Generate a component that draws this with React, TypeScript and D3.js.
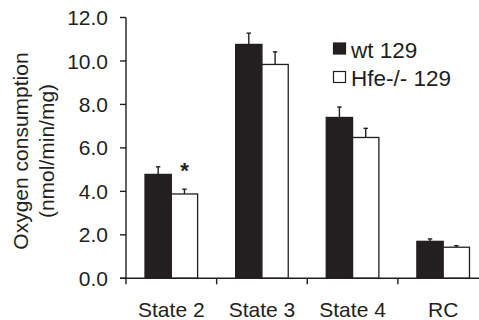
import React from "react";
import * as d3 from "d3";

const categories = ["State 2", "State 3", "State 4", "RC"];
const series = ["wt 129", "Hfe-/- 129"];
const wtValues = [4.78, 10.76, 7.4, 1.7];
const wtErrors = [0.35, 0.52, 0.48, 0.11];
const hfeValues = [3.88, 9.84, 6.48, 1.43];
const hfeErrors = [0.22, 0.58, 0.42, 0.07];
const yTicks = [0, 2, 4, 6, 8, 10, 12];
const significance = ["*", "", "", ""];

const W = 479;
const H = 320;
const X0 = 126;
const X1 = 488.5;
const Y0 = 278.3;
const Y1 = 17.5;
const INK = "#231f20";
const FONT = "'Liberation Sans', Arial, Helvetica, sans-serif";

export default function App() {
  const x = d3.scaleBand<string>().domain(categories).range([X0, X1]).padding(0);
  const bw = x.bandwidth();
  const barW = 26.3;
  const x1 = d3
    .scaleBand<string>()
    .domain(series)
    .range([bw / 2 - barW, bw / 2 + barW])
    .padding(0);
  const y = d3.scaleLinear().domain([0, 12]).range([Y0, Y1]);

  const data = series.map((s, si) => ({
    name: s,
    values: si === 0 ? wtValues : hfeValues,
    errors: si === 0 ? wtErrors : hfeErrors,
    fill: si === 0 ? INK : "#ffffff",
  }));

  return (
    <svg
      width={W}
      height={H}
      style={{ position: "absolute", left: 0, top: 0, background: "#fff" }}
      fontFamily={FONT}
    >
      <rect x={0} y={0} width={W} height={H} fill="#fff" />
      {/* bars */}
      {categories.map((c, ci) =>
        data.map((d) => {
          const bx = (x(c) as number) + (x1(d.name) as number);
          const top = y(d.values[ci]);
          const eTop = y(d.values[ci] + d.errors[ci]);
          const cx = bx + x1.bandwidth() / 2;
          return (
            <g key={c + d.name}>
              <line x1={cx} x2={cx} y1={top} y2={eTop} stroke={INK} strokeWidth={1.4} />
              <line x1={cx - 2.2} x2={cx + 2.2} y1={eTop} y2={eTop} stroke={INK} strokeWidth={1.4} />
              <rect
                x={bx}
                y={top}
                width={x1.bandwidth()}
                height={Y0 - top}
                fill={d.fill}
                stroke={INK}
                strokeWidth={1.3}
              />
            </g>
          );
        })
      )}
      {/* significance */}
      {categories.map((c, ci) =>
        significance[ci] ? (
          <text
            key={"sig" + c}
            x={(x(c) as number) + (x1(series[1]) as number) + x1.bandwidth() / 2}
            y={y(hfeValues[ci] + hfeErrors[ci]) - 11}
            textAnchor="middle"
            fontSize={22}
            fontWeight="bold"
            fill={INK}
          >
            {significance[ci]}
          </text>
        ) : null
      )}
      {/* y axis */}
      <line x1={X0} x2={X0} y1={Y1} y2={Y0 + 6} stroke={INK} strokeWidth={1.4} />
      {yTicks.map((t) => (
        <g key={"yt" + t}>
          <line x1={X0 - 6} x2={X0} y1={y(t)} y2={y(t)} stroke={INK} strokeWidth={1.4} />
          <text
            x={108}
            y={y(t)}
            dy="0.36em"
            textAnchor="end"
            fontSize={21}
            fill={INK}
          >
            {t.toFixed(1)}
          </text>
        </g>
      ))}
      {/* x axis */}
      <line x1={X0 - 6} x2={X1} y1={Y0} y2={Y0} stroke={INK} strokeWidth={1.4} />
      {categories.map((c) => (
        <g key={"xt" + c}>
          <line
            x1={(x(c) as number) + bw}
            x2={(x(c) as number) + bw}
            y1={Y0}
            y2={Y0 + 6}
            stroke={INK}
            strokeWidth={1.4}
          />
          <text
            x={(x(c) as number) + bw / 2}
            y={316.7}
            textAnchor="middle"
            fontSize={21}
            fill={INK}
          >
            {c}
          </text>
        </g>
      ))}
      {/* y title */}
      <g transform={`translate(27.5, 151) rotate(-90)`}>
        <text x={0} y={0} textAnchor="middle" fontSize={21} fill={INK}>
          Oxygen consumption
        </text>
        <text x={0} y={26} textAnchor="middle" fontSize={21} fill={INK}>
          (nmol/min/mg)
        </text>
      </g>
      {/* legend */}
      {series.map((s, i) => (
        <g key={"lg" + s} transform={`translate(333, ${43 + i * 28.5})`}>
          <rect
            x={0.5}
            y={0}
            width={12}
            height={11}
            fill={i === 0 ? INK : "#fff"}
            stroke={INK}
            strokeWidth={1.2}
          />
          <text x={18} y={14.7} fontSize={22.5} fill={INK}>
            {s}
          </text>
        </g>
      ))}
    </svg>
  );
}
